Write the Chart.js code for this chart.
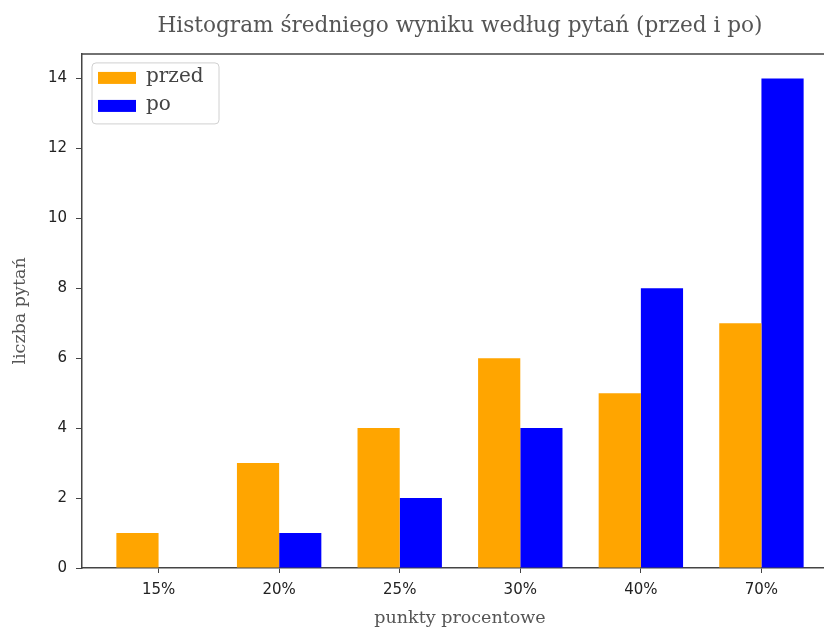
<!DOCTYPE html>
<html><head><meta charset="utf-8">
<script src="https://cdn.jsdelivr.net/npm/chart.js@4/dist/chart.umd.min.js"></script>
<style>html,body{margin:0;padding:0;overflow:hidden;background:#fff}</style>
</head><body>
<canvas id="c" width="860" height="629"></canvas>
<script>
const categories = ['15%', '20%', '25%', '30%', '40%', '70%'];
const przedValues = [1, 3, 4, 6, 5, 7];
const poValues = [0, 1, 2, 4, 8, 14];
const yTicks = [0, 2, 4, 6, 8, 10, 12, 14];
const seriesLabels = ['przed', 'po'];
const seriesColors = ['#FFA500', '#0000FF'];
const titleText = 'Histogram średniego wyniku według pytań (przed i po)';
const xTitle = 'punkty procentowe';
const yTitle = 'liczba pytań';

const serif = "'DejaVu Serif', serif";
const sans = "'DejaVu Sans', sans-serif";
const spine = '#444';

const frame = {
  id: 'frame',
  afterDatasetsDraw(chart) {
    const { ctx, chartArea: a } = chart;
    ctx.save();
    ctx.strokeStyle = spine;
    ctx.lineWidth = 1.5;
    ctx.beginPath();
    ctx.moveTo(a.left, a.top);
    ctx.lineTo(a.right, a.top);
    ctx.lineTo(a.right, a.bottom);
    ctx.stroke();
    ctx.restore();
  }
};

const boxLegend = {
  id: 'boxLegend',
  afterDraw(chart) {
    const { ctx, chartArea: a } = chart;
    const x = a.left + 10, y = a.top + 9, w = 127, h = 61, r = 4;
    ctx.save();
    ctx.beginPath();
    ctx.roundRect(x, y, w, h, r);
    ctx.fillStyle = 'rgba(255,255,255,0.8)';
    ctx.fill();
    ctx.strokeStyle = '#d0d0d0';
    ctx.lineWidth = 1;
    ctx.stroke();
    ctx.font = "20px " + serif;
    ctx.textBaseline = 'middle';
    ctx.textAlign = 'left';
    chart.data.datasets.forEach((ds, i) => {
      const cy = y + 15 + i * 28;
      ctx.fillStyle = ds.backgroundColor;
      ctx.fillRect(x + 6, cy - 6, 38, 12);
      ctx.fillStyle = '#444';
      ctx.fillText(ds.label, x + 54, cy - 1);
    });
    ctx.restore();
  }
};

new Chart(document.getElementById('c'), {
  type: 'bar',
  data: {
    datasets: [
      { label: seriesLabels[0], data: przedValues.map((v, i) => ({ x: i, y: v })), backgroundColor: seriesColors[0], borderWidth: 0, categoryPercentage: 0.7, barPercentage: 1.0 },
      { label: seriesLabels[1], data: poValues.map((v, i) => ({ x: i, y: v })), backgroundColor: seriesColors[1], borderWidth: 0, categoryPercentage: 0.7, barPercentage: 1.0 }
    ]
  },
  options: {
    responsive: false,
    animation: false,
    devicePixelRatio: 1,
    layout: { padding: { left: 0, right: 22, top: 0, bottom: 0 } },
    plugins: {
      legend: { display: false },
      tooltip: { enabled: false },
      title: {
        display: true, text: titleText, fullSize: false,
        font: { family: serif, size: 21.6, weight: 'normal' }, color: '#555',
        padding: { top: 13, bottom: 15 }
      }
    },
    scales: {
      x: {
        type: 'linear', min: -0.635, max: 5.635, offset: false,
        afterBuildTicks: s => { s.ticks = categories.map((c, i) => ({ value: i })); },
        afterFit: s => { s.height = 61; },
        ticks: { callback: v => categories[v], font: { family: sans, size: 15 }, color: '#222', padding: 8, maxRotation: 0, autoSkip: false },
        grid: { drawOnChartArea: false, drawTicks: true, tickLength: 5, color: spine, offset: false },
        border: { display: true, color: spine, width: 1.5 },
        title: { display: true, text: xTitle, font: { family: serif, size: 17.5 }, color: '#555', padding: { top: 0, bottom: 0 } }
      },
      y: {
        min: 0, max: 14.7,
        afterBuildTicks: s => { s.ticks = yTicks.map(v => ({ value: v })); },
        afterFit: s => { s.width = 82; },
        ticks: { font: { family: sans, size: 15 }, color: '#222', padding: 9 },
        grid: { drawOnChartArea: false, drawTicks: true, tickLength: 6, color: spine },
        border: { display: true, color: spine, width: 1.5 },
        title: { display: true, text: yTitle, font: { family: serif, size: 17.5 }, color: '#555', padding: { top: 9.5, bottom: 0 } }
      }
    }
  },
  plugins: [frame, boxLegend]
});
</script>
</body></html>
